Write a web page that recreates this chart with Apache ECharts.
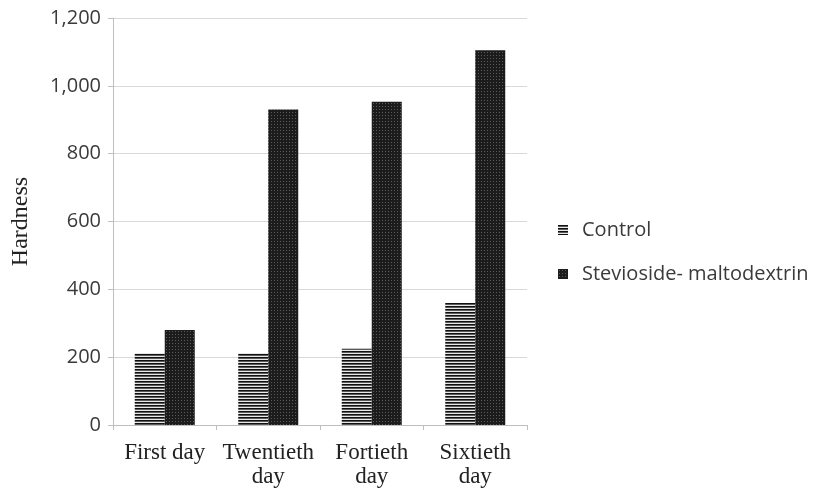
<!DOCTYPE html>
<html>
<head>
<meta charset="utf-8">
<script src="https://cdn.jsdelivr.net/npm/echarts@6/dist/echarts.min.js"></script>
<style>
  html, body { margin: 0; padding: 0; background: #fff; }
  #chart { width: 833px; height: 494px; }
</style>
</head>
<body>
<div id="chart"></div>
<script>
// Hardness of samples over storage time
const categories = ['First day', 'Twentieth\nday', 'Fortieth\nday', 'Sixtieth\nday'];
const controlValues = [212, 212, 225, 360];
const stevioValues = [280, 930, 953, 1105];
const yTicks = [0, 200, 400, 600, 800, 1000, 1200];

// Fill patterns: horizontal stripes and a dense dark dot texture
function stripeTile() {
  const c = document.createElement('canvas');
  c.width = 4; c.height = 3;
  const g = c.getContext('2d');
  g.fillStyle = '#e8e8e8'; g.fillRect(0, 0, 4, 3);
  g.fillStyle = '#111'; g.fillRect(0, 0, 4, 1);
  g.fillStyle = '#5a5a5a'; g.fillRect(0, 1, 4, 1);
  return c;
}
function dotTile() {
  const c = document.createElement('canvas');
  c.width = 3; c.height = 3;
  const g = c.getContext('2d');
  g.fillStyle = '#1c1c1c'; g.fillRect(0, 0, 3, 3);
  g.fillStyle = '#5a5a5a'; g.fillRect(1, 1, 1, 1);
  return c;
}
const stripeFill = { image: stripeTile(), repeat: 'repeat' };
const dotFill = { image: dotTile(), repeat: 'repeat' };

const chart = echarts.init(document.getElementById('chart'), null, { renderer: 'canvas' });
chart.setOption({
  animation: false,
  backgroundColor: '#fff',
  grid: { left: 113, right: 306, top: 18, bottom: 69 },
  legend: {
    orient: 'vertical',
    left: 553,
    top: 214,
    itemGap: 22,
    itemWidth: 10,
    itemHeight: 10,
    icon: 'rect',
    textStyle: {
      fontFamily: 'Open Sans', fontSize: 20, lineHeight: 22, color: '#3a3a3a',
      padding: [0, 0, 0, 9]
    },
    data: ['Control', 'Stevioside- maltodextrin']
  },
  xAxis: {
    type: 'category',
    data: categories,
    axisLine: { lineStyle: { color: '#bfbfbf', width: 1 } },
    axisTick: { show: true, length: 5, lineStyle: { color: '#bfbfbf' } },
    axisLabel: {
      interval: 0,
      fontFamily: 'Liberation Serif', fontSize: 23, color: '#222',
      lineHeight: 24, margin: 16
    }
  },
  yAxis: {
    type: 'value',
    min: yTicks[0],
    max: yTicks[yTicks.length - 1],
    interval: 200,
    name: 'Hardness',
    nameLocation: 'middle',
    nameGap: 80,
    nameTextStyle: { fontFamily: 'Liberation Serif', fontSize: 24, color: '#222' },
    axisLine: { show: true, lineStyle: { color: '#bfbfbf', width: 1 } },
    axisTick: { show: true, length: 5, lineStyle: { color: '#bfbfbf' } },
    splitLine: { lineStyle: { color: '#d9d9d9', width: 1 } },
    axisLabel: {
      fontFamily: 'Open Sans', fontSize: 20, color: '#3a3a3a', margin: 12,
      formatter: v => v.toLocaleString('en-US')
    }
  },
  series: [
    {
      name: 'Control', type: 'bar', data: controlValues,
      barWidth: 30, barGap: '0%',
      itemStyle: { color: stripeFill }
    },
    {
      name: 'Stevioside- maltodextrin', type: 'bar', data: stevioValues,
      barWidth: 30, barGap: '0%',
      itemStyle: { color: dotFill }
    }
  ]
});
</script>
</body>
</html>
